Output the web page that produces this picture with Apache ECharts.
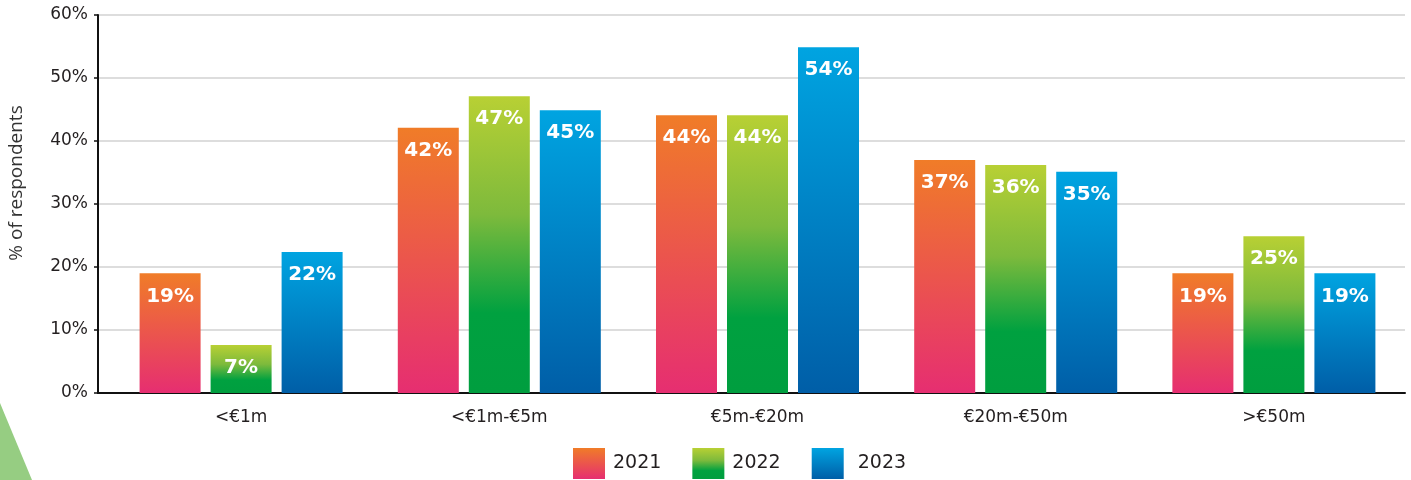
<!DOCTYPE html>
<html>
<head>
<meta charset="utf-8">
<script src="https://cdn.jsdelivr.net/npm/echarts@6/dist/echarts.min.js"></script>
<style>html,body{margin:0;padding:0;background:#fff;}#c{width:1411px;height:480px;}</style>
</head>
<body>
<div id="c"></div>
<script>
const categories = ['<€1m', '<€1m-€5m', '€5m-€20m', '€20m-€50m', '>€50m'];
const years = ['2021', '2022', '2023'];
const values2021 = [19.0, 42.1, 44.1, 37.0, 19.0];
const values2022 = [7.6, 47.1, 44.1, 36.2, 24.9];
const values2023 = [22.4, 44.9, 54.9, 35.1, 19.0];
const labels2021 = ['19%', '42%', '44%', '37%', '19%'];
const labels2022 = ['7%', '47%', '44%', '36%', '25%'];
const labels2023 = ['22%', '45%', '54%', '35%', '19%'];
const yTicks = [0, 10, 20, 30, 40, 50, 60];

const FONT = 'DejaVu Sans';
function grad(stops) {
  return new echarts.graphic.LinearGradient(0, 0, 0, 1, stops.map(s => ({offset: s[0], color: s[1]})));
}
const colors = [
  grad([[0, '#f07c28'], [1, '#e62e71']]),
  grad([[0, '#b8d034'], [0.4, '#7dba3c'], [0.73, '#00a140'], [1, '#009e3f']]),
  grad([[0, '#00a4e1'], [1, '#005ea7']])
];
const seriesValues = [values2021, values2022, values2023];
const seriesLabels = [labels2021, labels2022, labels2023];

const chart = echarts.init(document.getElementById('c'), null, {renderer: 'canvas'});
chart.setOption({
  animation: false,
  backgroundColor: '#fff',
  grid: [
    {left: 98, right: 6, top: 15, bottom: 87},
    {left: 112, right: 8, top: 15, bottom: 87}
  ],
  legend: {
    data: years,
    left: 573,
    top: 448,
    padding: 0,
    itemWidth: 32,
    itemHeight: 31,
    itemGap: 31,
    icon: 'rect',
    formatter: n => n === '2023' ? ' ' + n : n,
    textStyle: {fontFamily: FONT, fontSize: 19, color: '#231f20', padding: [2, 0, 0, 3]}
  },
  xAxis: [
    {
      type: 'value', gridIndex: 0, min: 0, max: 1,
      axisLine: {show: true, onZero: false, lineStyle: {color: '#111', width: 2}},
      axisTick: {show: false}, axisLabel: {show: false}, splitLine: {show: false}
    },
    {
      type: 'category', gridIndex: 1, data: categories,
      axisLine: {show: false}, axisTick: {show: false},
      axisLabel: {fontFamily: FONT, fontSize: 17, color: '#231f20', margin: 16}
    }
  ],
  yAxis: [
    {
      type: 'value', gridIndex: 0, min: yTicks[0], max: yTicks[yTicks.length - 1], interval: 10,
      axisLine: {show: true, lineStyle: {color: '#111', width: 2}},
      axisTick: {show: true, length: 4, lineStyle: {color: '#111', width: 1.5}},
      axisLabel: {formatter: '{value}%', fontFamily: FONT, fontSize: 17, color: '#231f20', margin: 10},
      splitLine: {show: true, lineStyle: {color: '#dddddd', width: 2}}
    },
    {
      type: 'value', gridIndex: 1, min: 0, max: 60, show: false
    }
  ],
  graphic: [
    {
      type: 'polygon', z: -1,
      shape: {points: [[0, 403], [32, 480], [0, 480]]},
      style: {fill: '#96cd82'}
    },
    {
      type: 'text', x: 17, y: 183, rotation: Math.PI / 2,
      style: {text: '% of respondents', font: '19px "Open Sans"', fill: '#333', align: 'center', verticalAlign: 'middle'}
    }
  ],
  series: years.map((y, i) => ({
    name: y,
    type: 'bar',
    xAxisIndex: 1,
    yAxisIndex: 1,
    data: seriesValues[i],
    barWidth: 61,
    barGap: '16.4%',
    itemStyle: {color: colors[i]},
    label: {
      show: true,
      position: 'insideTop',
      distance: 13,
      formatter: p => seriesLabels[i][p.dataIndex],
      color: '#fff',
      fontFamily: FONT,
      fontWeight: 'bold',
      fontSize: 20
    }
  }))
});
</script>
</body>
</html>
